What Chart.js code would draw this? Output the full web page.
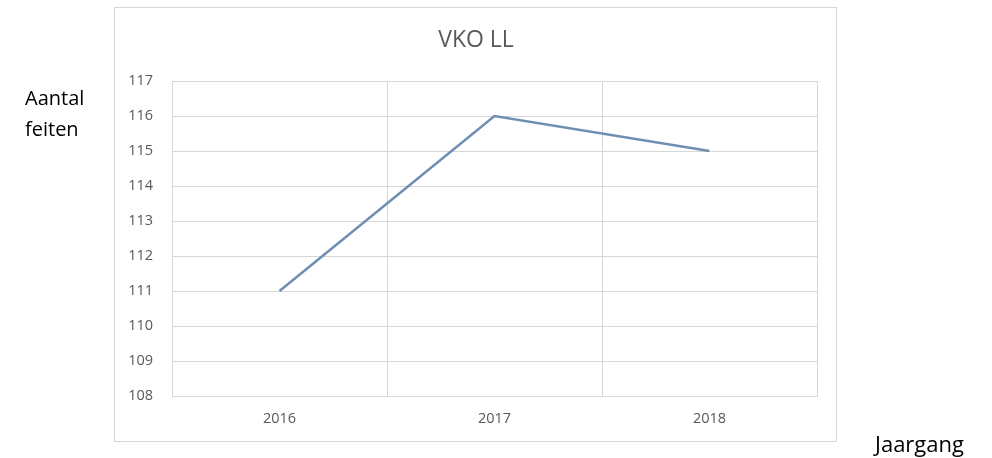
<!DOCTYPE html>
<html>
<head>
<meta charset="utf-8">
<script src="https://cdn.jsdelivr.net/npm/chart.js@4"></script>
<style>
  html, body { margin: 0; padding: 0; background: #fff; }
  body { width: 992px; height: 458px; position: relative; overflow: hidden; font-family: "Open Sans", sans-serif; }
  #chart { position: absolute; left: 0; top: 0; }
  .axis-note { position: absolute; color: #000; white-space: nowrap; }
  #ylabel { left: 25px; top: 82px; font-size: 20px; line-height: 31px; }
  #xlabel { left: 875px; top: 432px; font-size: 22px; line-height: 22px; }
</style>
</head>
<body>
<canvas id="chart" width="992" height="458"></canvas>
<div class="axis-note" id="ylabel">Aantal<br>feiten</div>
<div class="axis-note" id="xlabel">Jaargang</div>
<script>
// Chart data
const years = ["2016", "2017", "2018"];
const feiten = [111, 116, 115];
const yMin = 108;
const yMax = 117;

const textGrey = "#595959";
const gridGrey = "#d6d6d6";

// Outer frame round the chart, like the Excel chart border
const framePlugin = {
  id: "frame",
  beforeDraw(chart) {
    const ctx = chart.ctx;
    ctx.save();
    ctx.strokeStyle = gridGrey;
    ctx.lineWidth = 1;
    ctx.strokeRect(114.5, 7.5, 722, 434);
    ctx.restore();
  }
};

const ctx = document.getElementById("chart").getContext("2d");
new Chart(ctx, {
  type: "line",
  data: {
    labels: years,
    datasets: [{
      label: "VKO LL",
      data: feiten,
      borderColor: "#6e8fb2",
      borderWidth: 2.5,
      pointRadius: 0,
      tension: 0,
      fill: false
    }]
  },
  options: {
    responsive: false,
    animation: false,
    layout: { padding: { left: 115, right: 155, top: 8, bottom: 16 } },
    plugins: {
      legend: { display: false },
      tooltip: { enabled: false },
      title: {
        display: true,
        text: "VKO LL",
        color: textGrey,
        font: { family: "'Open Sans', sans-serif", size: 23, weight: "normal" },
        padding: { top: 18.2, bottom: 27.2 }
      }
    },
    scales: {
      x: {
        offset: true,
        grid: { color: gridGrey, offset: true, drawTicks: false },
        border: { color: gridGrey },
        ticks: { color: textGrey, padding: 14, font: { family: "'Open Sans', sans-serif", size: 14.5 } },
        afterFit(scale) { scale.height = 46; }
      },
      y: {
        min: yMin,
        max: yMax,
        grid: { color: gridGrey, drawTicks: false },
        border: { color: gridGrey },
        ticks: { stepSize: 1, color: textGrey, padding: 19, font: { family: "'Open Sans', sans-serif", size: 14.5 } },
        afterFit(scale) { scale.width = 57; }
      },
      yRight: {
        position: "right",
        display: true,
        grid: { display: false },
        border: { display: false },
        ticks: { display: false },
        afterFit(scale) { scale.width = 20; }
      }
    }
  },
  plugins: [framePlugin]
});
</script>
</body>
</html>
